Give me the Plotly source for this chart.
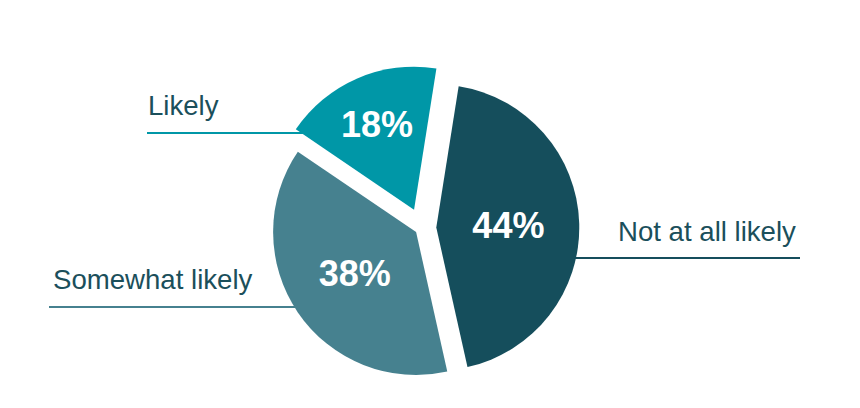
import plotly.graph_objects as go

# ---- data ----
categories = ["Not at all likely", "Somewhat likely", "Likely"]
shares = [44, 38, 18]

# ---- style ----
colors = ["#154e5c", "#46818f", "#0097a7"]
pulls = [0.10, 0.05, 0.14]
label_color = "#1b4f5b"
W, H = 860, 408


def px(x):
    return x / W


def py(y):
    return 1 - y / H


fig = go.Figure(
    go.Pie(
        labels=categories,
        values=shares,
        sort=False,
        direction="clockwise",
        rotation=9,
        pull=pulls,
        marker=dict(colors=colors, line=dict(width=0)),
        textinfo="percent",
        texttemplate="%{percent:.0%}",
        textposition="inside",
        insidetextorientation="horizontal",
        insidetextfont=dict(size=36, color="white",
                            family="Liberation Sans, Arial", weight="bold"),
        hoverinfo="skip",
        showlegend=False,
        domain=dict(x=[px(259), px(585)], y=[py(391), py(65)]),
    )
)

# label placement (layout, pixel positions)
label_pos = {
    "Likely": dict(x=146, y=106, line_y=133, x0=147, x1=330),
    "Somewhat likely": dict(x=51, y=279, line_y=307, x0=49, x1=340),
    "Not at all likely": dict(x=616, y=231, line_y=258, x0=540, x1=800),
}

for cat, col in zip(categories, colors):
    p = label_pos[cat]
    fig.add_annotation(
        x=px(p["x"]), y=py(p["y"]), xref="paper", yref="paper",
        text=cat, showarrow=False, xanchor="left", yanchor="middle",
        font=dict(size=27.6, color=label_color, family="Liberation Sans, Arial"),
    )
    fig.add_shape(
        type="line", xref="paper", yref="paper", layer="below",
        x0=px(p["x0"]), x1=px(p["x1"]), y0=py(p["line_y"]), y1=py(p["line_y"]),
        line=dict(color=col, width=2),
    )

fig.update_layout(
    width=W, height=H,
    margin=dict(l=0, r=0, t=0, b=0),
    paper_bgcolor="white",
    plot_bgcolor="white",
)

fig.write_html("out.html",
               config={"displayModeBar": False},
               post_script="document.body.style.margin='0px';document.body.style.overflow='hidden';")
